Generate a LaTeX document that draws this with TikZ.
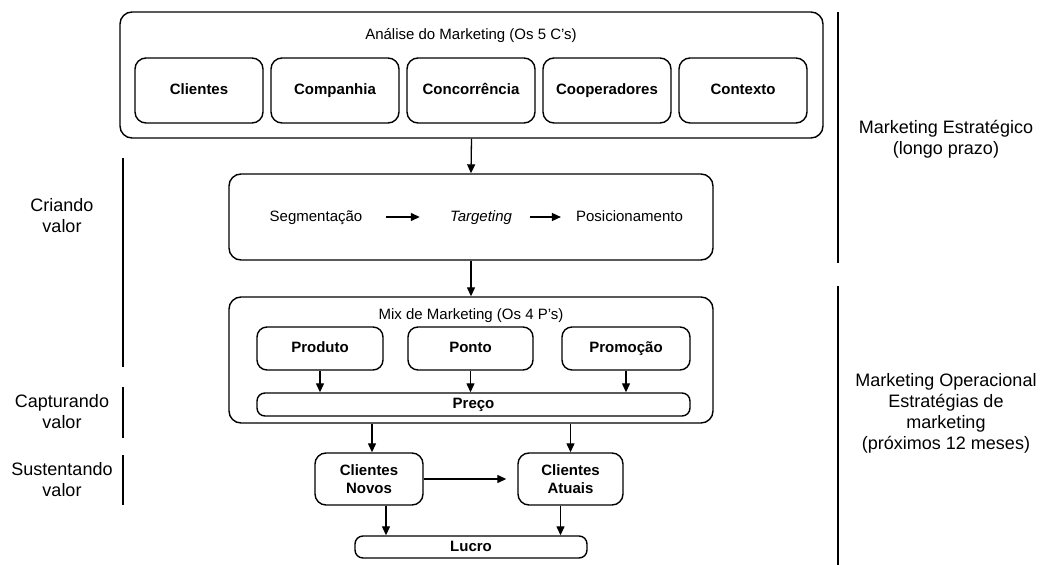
\documentclass[tikz,border=0pt]{standalone}
\usepackage{fontspec}
\setmainfont{Liberation Sans}
\usetikzlibrary{arrows.meta}
\begin{document}
\begin{tikzpicture}[x=1pt,y=-1pt,
  frame/.style={draw, line width=1.4pt, rounded corners=12pt, inner sep=0pt},
  cbox/.style={frame, rounded corners=11pt, align=center,
    font=\fontsize{15}{18.5}\selectfont\bfseries},
  one/.style={text height=11pt, text depth=3pt},
  pill/.style={frame, one, rounded corners=8pt, font=\fontsize{15}{18}\selectfont\bfseries},
  arr/.style={line width=1.3pt, -{Triangle[length=9pt,width=8pt]}},
  plain/.style={one, font=\fontsize{15}{18}\selectfont, inner sep=0pt},
  side/.style={font=\fontsize{18}{21}\selectfont, align=center, inner sep=0pt},
  rule/.style={line width=1.4pt}]
\useasboundingbox (0,0) rectangle (1047,565);

% --- Analise (5 C's) ---
\node[frame, minimum width=703pt, minimum height=126pt] (ana) at (471.5,75) {};
\node[plain] (anat) at (471,35) {Análise do Marketing (Os 5 C’s)};
\node[cbox, one, minimum width=128pt, minimum height=65pt] (c1) at (199,90.5) {Clientes};
\node[cbox, one, minimum width=128pt, minimum height=65pt] (c2) at (335,90.5) {Companhia};
\node[cbox, one, minimum width=128pt, minimum height=65pt] (c3) at (471,90.5) {Concorrência};
\node[cbox, one, minimum width=128pt, minimum height=65pt] (c4) at (607,90.5) {Cooperadores};
\node[cbox, one, minimum width=128pt, minimum height=65pt] (c5) at (743,90.5) {Contexto};

% --- STP ---
\node[frame, minimum width=484pt, minimum height=86pt] (stp) at (471,217) {};
\node[plain] (segm) at (316,217) {Segmentação};
\node[plain] (targ) at (481,217) {\itshape Targeting};
\node[plain] (posi) at (629.5,217) {Posicionamento};
\draw[arr, shorten <=24pt, shorten >=30pt] (segm.east) -- (targ.west);
\draw[arr, shorten <=18pt, shorten >=15pt] (targ.east) -- (posi.west);

% --- Mix (4 P's) ---
\node[frame, minimum width=484pt, minimum height=126pt] (mix) at (471,360) {};
\node[plain] (mixt) at (471,315) {Mix de Marketing (Os 4 P’s)};
\node[cbox, one, rounded corners=10pt, minimum width=126pt, minimum height=43pt] (prod) at (320,348.5) {Produto};
\node[cbox, one, rounded corners=10pt, minimum width=125pt, minimum height=43pt] (pont) at (470.5,348.5) {Ponto};
\node[cbox, one, rounded corners=10pt, minimum width=128pt, minimum height=43pt] (prom) at (626,348.5) {Promoção};
\node[pill, minimum width=433pt, minimum height=23pt] (prec) at (473.5,404.5) {Preço};
\draw[arr] (prod.south) -- (prod.south |- prec.north);
\draw[arr] (pont.south) -- (pont.south |- prec.north);
\draw[arr] (prom.south) -- (prom.south |- prec.north);

% --- clientes e lucro ---
\node[cbox, minimum width=108pt, minimum height=52pt] (novo) at (369,479) {Clientes\\Novos};
\node[cbox, minimum width=105pt, minimum height=52pt] (atua) at (570.5,479) {Clientes\\Atuais};
\node[pill, minimum width=232pt, minimum height=22pt] (lucr) at (471,547) {Lucro};

\draw[arr] (ana.south) -- (stp.north);
\draw[arr] (stp.south) -- (mix.north);
\draw[arr] ([xshift=3pt]mix.south -| novo.north) -- ([xshift=3pt]novo.north);
\draw[arr] (mix.south -| atua.north) -- (atua.north);
\draw[arr, shorten >=11pt] (novo.east) -- (atua.west);
\draw[arr] ([xshift=17pt]novo.south) -- ([xshift=17pt]novo.south |- lucr.north);
\draw[arr] ([xshift=-10pt]atua.south) -- ([xshift=-10pt]atua.south |- lucr.north);

% --- etapas de valor (esquerda) ---
\coordinate (l1a) at (123,158); \coordinate (l1b) at (123,367);
\coordinate (l2a) at (123,387); \coordinate (l2b) at (123,438);
\coordinate (l3a) at (123,455); \coordinate (l3b) at (123,505);
\draw[rule] (l1a) -- (l1b);
\draw[rule] (l2a) -- (l2b);
\draw[rule] (l3a) -- (l3b);
\node[side] (cria) at (62,216) {Criando\\valor};
\node[side] (capt) at (62,412) {Capturando\\valor};
\node[side] (sust) at (62,480) {Sustentando\\valor};

% --- horizonte (direita) ---
\coordinate (r1a) at (838,12);  \coordinate (r1b) at (838,263);
\coordinate (r2a) at (838,286); \coordinate (r2b) at (838,565);
\draw[rule] (r1a) -- (r1b);
\draw[rule] (r2a) -- (r2b);
\node[side] (estr) at (946,139) {Marketing Estratégico\\(longo prazo)};
\node[side] (oper) at (946,413) {Marketing Operacional\\Estratégias de\\marketing\\(próximos 12 meses)};
\end{tikzpicture}
\end{document}
